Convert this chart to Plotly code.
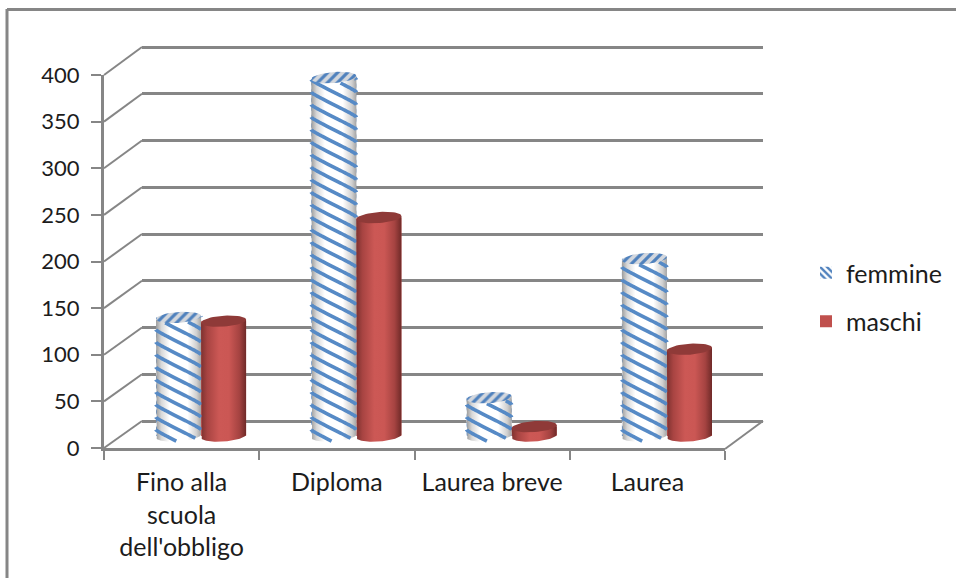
import numpy as np
import plotly.graph_objects as go

categories = ["Fino alla scuola dell'obbligo", "Diploma", "Laurea breve", "Laurea"]
tick_labels = ["Fino alla<br>scuola<br>dell'obbligo", "Diploma", "Laurea breve", "Laurea"]
femmine = [127, 384, 41, 190]
maschi = [123, 234, 10, 93]
value_ticks = [0, 50, 100, 150, 200, 250, 300, 350, 400]

W, H = 956, 578
GREY = "#868686"
TEXT = "#1c1c1c"
FONT = "Lato"
LABEL_SIZE = 25
NUMBER_SIZE = 22


def px_x(p):
    return p / W


def px_y(p):
    return 1 - p / H


# plane boxes in pixels: left, right, y of value 0, y of value 400
FRONT = (104, 725, 448, 75)
BACK = (142, 763, 421, 47)
MID = (123.4, 744.6, 436, 62.6)

PAD = 25  # value units of slack on the back and bar planes so nothing is clipped
BAR_W = 0.29
UNIT_PX = (MID[2] - MID[3]) / 400
BACK_UNIT = (BACK[2] - BACK[3]) / 400
ELL_B = 5.5 / UNIT_PX   # ellipse half height in value units
TILT = 1.6 / UNIT_PX    # right side of a cylinder sits a little higher


def arc(cx, level, start, stop, n=50):
    theta = np.linspace(start, stop, n)
    x = cx + BAR_W / 2 * np.cos(theta)
    y = level + ELL_B * np.sin(theta) + TILT * np.cos(theta)
    return x.tolist(), y.tolist()


def body(cx, value):
    """Cylinder outline: lower rim of the base plus the straight sides."""
    xb, yb = arc(cx, 0, np.pi, 2 * np.pi)
    return ([cx - BAR_W / 2] + xb + [cx + BAR_W / 2],
            [value - TILT] + yb + [value + TILT])


def stripes(cx, value):
    """Band lines wound round a cylinder, cut at its two rims."""
    xs, ys = [], []
    drop = 25 / UNIT_PX
    gap = 12.5 / UNIT_PX
    t = np.linspace(0, 1, 48)
    px = cx - BAR_W / 2 * np.cos(np.pi * t)
    u = (px - cx) / (BAR_W / 2)
    run = 0.75 * (u + 1) / 2 + 0.25 * t
    rim = ELL_B * np.sqrt(np.clip(1 - u ** 2, 0, 1))
    low = -rim + TILT * u
    high = value - rim + TILT * u
    for start in np.arange(-20, value + drop + gap, gap):
        py = start - drop * run
        keep = (py >= low) & (py <= high)
        for a, b, k in zip(px, py, keep):
            xs.append(float(a) if k else None)
            ys.append(float(b) if k else None)
        xs.append(None)
        ys.append(None)
    return xs, ys


fig = go.Figure()

# Category axis on the front plane
fig.add_trace(go.Scatter(x=categories, y=[0] * 4, mode="none", showlegend=False,
                         hoverinfo="skip", xaxis="x", yaxis="y"))

# Back wall plane: only carries the gridlines
fig.add_trace(go.Scatter(x=[0, 1], y=[0, 400], mode="none", showlegend=False,
                         hoverinfo="skip", xaxis="x2", yaxis="y2"))

x_pos = list(range(len(categories)))
fig.add_trace(go.Bar(
    x=x_pos, y=femmine, name="femmine", width=BAR_W, offset=-BAR_W,
    marker=dict(color="white", line_width=0,
                pattern=dict(shape="\\", fgcolor="#4f81bd", bgcolor="white",
                             size=6, solidity=0.5)),
    xaxis="x3", yaxis="y3", legendgroup="f"))
fig.add_trace(go.Bar(
    x=x_pos, y=maschi, name="maschi", width=BAR_W, offset=0,
    marker=dict(color="#c0504d", line_width=0),
    xaxis="x3", yaxis="y3", legendgroup="m"))

WHITE_BODY = [[0, "#9c9c9c"], [0.12, "#d8d8d8"], [0.3, "#ffffff"], [0.7, "#ffffff"],
              [0.9, "#d0d0d0"], [1, "#a4a4a4"]]
RED_BODY = [[0, "#7e3230"], [0.14, "#a84442"], [0.4, "#cc5855"], [0.62, "#cb5754"],
            [0.85, "#a54341"], [1, "#6f2a28"]]

for i in x_pos:
    cf = i - BAR_W / 2
    cm = i + BAR_W / 2

    bx, by = body(cf, femmine[i])
    fig.add_trace(go.Scatter(x=bx, y=by, fill="toself", mode="lines", line_width=0,
                             fillgradient=dict(type="horizontal", colorscale=WHITE_BODY),
                             showlegend=False, hoverinfo="skip", xaxis="x3", yaxis="y3"))
    sx, sy = stripes(cf, femmine[i])
    fig.add_trace(go.Scatter(x=sx, y=sy, mode="lines",
                             line=dict(color="#568ac6", width=3.6, simplify=False),
                             connectgaps=False,
                             showlegend=False, hoverinfo="skip", xaxis="x3", yaxis="y3"))
    tx, ty = arc(cf, femmine[i], 0, 2 * np.pi)
    fig.add_trace(go.Scatter(x=tx, y=ty, fill="toself", mode="lines", line_width=0,
                             fillcolor="#c9d1dc",
                             fillpattern=dict(shape="/", fgcolor="#4f81bd", bgcolor="#d3d7dd",
                                              size=7, solidity=0.45),
                             showlegend=False, hoverinfo="skip", xaxis="x3", yaxis="y3"))

    bx, by = body(cm, maschi[i])
    fig.add_trace(go.Scatter(x=bx, y=by, fill="toself", mode="lines", line_width=0,
                             fillgradient=dict(type="horizontal", colorscale=RED_BODY),
                             showlegend=False, hoverinfo="skip", xaxis="x3", yaxis="y3"))
    tx, ty = arc(cm, maschi[i], 0, 2 * np.pi)
    fig.add_trace(go.Scatter(x=tx, y=ty, fill="toself", mode="lines", line_width=0,
                             fillcolor="#8f3a38",
                             showlegend=False, hoverinfo="skip", xaxis="x3", yaxis="y3"))

# Slanted edges joining the value axis to the back wall, and the floor's right edge
shapes = []
for v in value_ticks:
    y_front = FRONT[2] + (FRONT[3] - FRONT[2]) * v / 400
    y_back = BACK[2] + (BACK[3] - BACK[2]) * v / 400
    shapes.append(dict(type="line", xref="paper", yref="paper", layer="below",
                       x0=px_x(FRONT[0]), y0=px_y(y_front), x1=px_x(BACK[0]), y1=px_y(y_back),
                       line=dict(color=GREY, width=2)))
shapes.append(dict(type="line", xref="paper", yref="paper", layer="below",
                   x0=px_x(FRONT[1]), y0=px_y(FRONT[2] + 1), x1=px_x(BACK[1]), y1=px_y(BACK[2]),
                   line=dict(color=GREY, width=2)))
# Chart frame, top and left sides
shapes.append(dict(type="line", xref="paper", yref="paper", layer="below",
                   x0=px_x(7), y0=px_y(9.5), x1=1, y1=px_y(9.5), line=dict(color=GREY, width=3)))
shapes.append(dict(type="line", xref="paper", yref="paper", layer="below",
                   x0=px_x(7), y0=px_y(9), x1=px_x(7), y1=0, line=dict(color=GREY, width=3)))

label_font = dict(family=FONT, size=LABEL_SIZE, color=TEXT)
number_font = dict(family=FONT, size=NUMBER_SIZE, color=TEXT)
fig.update_layout(
    template="none",
    width=W, height=H, autosize=False,
    margin=dict(l=0, r=0, t=0, b=0),
    paper_bgcolor="white", plot_bgcolor="rgba(0,0,0,0)",
    barmode="overlay",
    font=label_font,
    shapes=shapes,
    legend=dict(x=px_x(806), y=px_y(250), xanchor="left", yanchor="top",
                bgcolor="rgba(0,0,0,0)", tracegroupgap=13, itemwidth=30,
                font=label_font),
    xaxis=dict(domain=[px_x(FRONT[0]), px_x(FRONT[1])], type="category",
               categoryorder="array", categoryarray=categories,
               tickmode="array", tickvals=categories, ticktext=tick_labels,
               range=[-0.5, 3.5], tickson="boundaries", ticks="outside", ticklen=9,
               tickwidth=2, tickcolor=GREY, showline=True, linecolor=GREY, linewidth=3,
               showgrid=False, zeroline=False, tickfont=label_font, fixedrange=True,
               ticklabelstandoff=10, automargin=False, anchor="y"),
    yaxis=dict(domain=[px_y(FRONT[2]), px_y(FRONT[3])], range=[0, 400],
               tickmode="array", tickvals=value_ticks, ticks="outside", ticklen=10,
               tickwidth=2, tickcolor=GREY, showline=True, linecolor=GREY, linewidth=3,
               showgrid=False, zeroline=False, tickfont=number_font, fixedrange=True,
               ticklabelstandoff=7, automargin=False, anchor="x"),
    xaxis2=dict(domain=[px_x(BACK[0]), px_x(BACK[1])], range=[0, 1], visible=False,
                anchor="y2"),
    yaxis2=dict(domain=[px_y(BACK[2] + PAD * BACK_UNIT), px_y(BACK[3] - PAD * BACK_UNIT)],
                range=[-PAD, 400 + PAD], anchor="x2",
                tickmode="array", tickvals=value_ticks, showticklabels=False, ticks="",
                showgrid=True, gridcolor=GREY, gridwidth=2.5, zeroline=False,
                showline=False),
    xaxis3=dict(domain=[px_x(MID[0]), px_x(MID[1])], range=[-0.5, 3.5], visible=False,
                anchor="y3"),
    yaxis3=dict(domain=[px_y(MID[2] + PAD * UNIT_PX), px_y(MID[3] - PAD * UNIT_PX)],
                range=[-PAD, 400 + PAD], visible=False, anchor="x3"),
)

fig.write_html("out.html")
